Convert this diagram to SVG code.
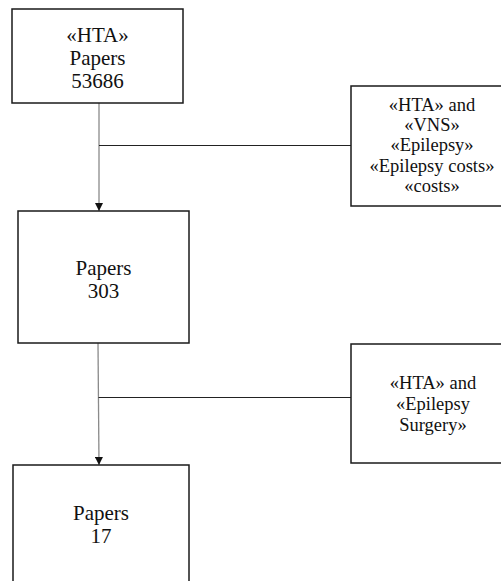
<svg xmlns="http://www.w3.org/2000/svg" width="501" height="581" viewBox="0 0 501 581">
<defs>
<style>
.box{fill:#fff;stroke:#1a1a1a;stroke-width:1.5}
.t{font-family:"Liberation Serif","DejaVu Serif",serif;font-size:21px;fill:#111;text-anchor:middle}
.s{font-family:"Liberation Serif","DejaVu Serif",serif;font-size:18.5px;fill:#111;text-anchor:middle}
.v{stroke:#8a8a8a;stroke-width:1.3;fill:none}
.h{stroke:#222;stroke-width:1.2;fill:none}
</style>
<marker id="arr" viewBox="0 0 10 10" refX="10" refY="5" markerWidth="8" markerHeight="8" markerUnits="userSpaceOnUse" orient="auto">
<path d="M0,0 L10,5 L0,10 Z" fill="#111"/>
</marker>
</defs>
<rect width="501" height="581" fill="#fff"/>
<g id="connectors">
<line class="v" x1="99" y1="103" x2="99" y2="211" marker-end="url(#arr)"/>
<line class="h" x1="99" y1="145.5" x2="351" y2="145.5"/>
<line class="v" x1="98" y1="343" x2="99" y2="465" marker-end="url(#arr)"/>
<line class="h" x1="98.5" y1="397.5" x2="351" y2="397.5"/>
</g>
<g id="node1">
<rect class="box" x="12" y="9" width="171" height="94"/>
<text class="t" x="97.5" y="42">«HTA»</text>
<text class="t" x="97.5" y="65">Papers</text>
<text class="t" x="97.5" y="88">53686</text>
</g>
<g id="node2">
<rect class="box" x="18" y="211" width="171" height="132"/>
<text class="t" x="103.5" y="275">Papers</text>
<text class="t" x="103.5" y="298">303</text>
</g>
<g id="node3">
<rect class="box" x="13" y="465" width="176" height="130"/>
<text class="t" x="101" y="520">Papers</text>
<text class="t" x="101" y="543">17</text>
</g>
<g id="filter1">
<rect class="box" x="351" y="86" width="160" height="120"/>
<text class="s" x="432" y="111">«HTA» and</text>
<text class="s" x="432" y="131">«VNS»</text>
<text class="s" x="432" y="151">«Epilepsy»</text>
<text class="s" x="432" y="171.5">«Epilepsy costs»</text>
<text class="s" x="432" y="192">«costs»</text>
</g>
<g id="filter2">
<rect class="box" x="351" y="344" width="160" height="119"/>
<text class="s" x="433" y="389">«HTA» and</text>
<text class="s" x="433" y="410">«Epilepsy</text>
<text class="s" x="433" y="431">Surgery»</text>
</g>
</svg>
